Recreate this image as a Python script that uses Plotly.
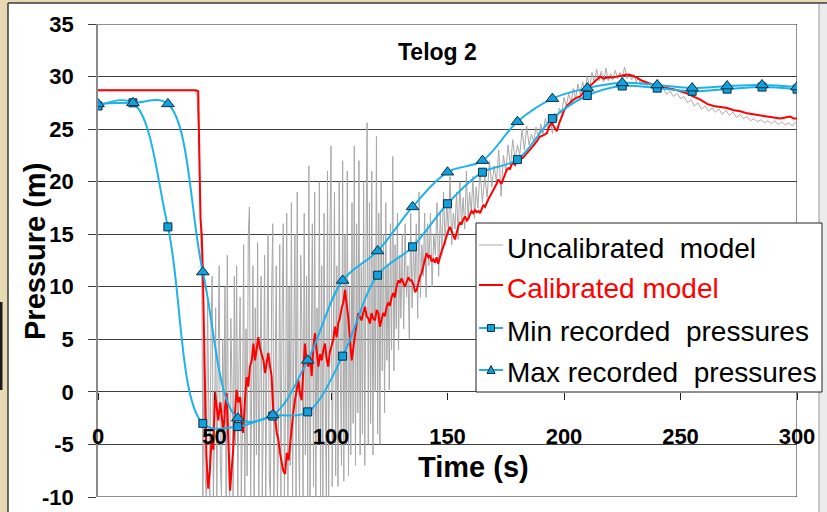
import plotly.graph_objects as go

# ---------------- data ----------------
rec_t = [0, 15, 30, 45, 60, 75, 90, 105, 120, 135, 150, 165, 180, 195, 210, 225, 240, 255, 270, 285, 300]
min_p = [27.2, 27.5, 15.7, -3.0, -3.3, -2.3, -1.9, 3.4, 11.1, 13.8, 17.9, 20.9, 22.1, 26.0, 28.2, 29.1, 28.9, 28.6, 28.8, 29.0, 28.8]
max_p = [27.4, 27.5, 27.4, 11.4, -2.5, -2.2, 3.0, 10.6, 13.4, 17.6, 20.9, 22.0, 25.7, 27.9, 28.9, 29.4, 29.2, 28.9, 29.1, 29.2, 29.0]

calib_t = [0, 42.0, 43.0, 43.5, 44.0, 44.5, 45.0, 45.8, 46.5, 47.3, 48.0, 48.8, 49.5, 50.2, 51.0, 51.6, 52.5, 53.2, 53.8,
           54.5, 55.2, 55.9, 56.7, 57.3, 58.0, 58.8, 59.5, 60.2, 61.0, 61.6, 62.3, 63.0, 63.8, 64.5, 65.2, 66.0, 66.7,
           67.4, 68.1, 68.8, 69.5, 70.2, 71.0, 71.7, 72.4, 73.1, 73.8, 74.5, 75.2, 76.0, 76.7, 77.4, 78.1, 78.8, 79.5,
           80.3, 81.0, 81.8, 82.5, 83.1, 83.8, 84.5, 85.3, 86.0, 86.7, 87.4, 88.1, 88.8, 89.5, 90.3, 91.0, 91.7, 92.4,
           93.1, 93.8, 94.6, 95.3, 96.0, 96.7, 97.4, 98.1, 98.8, 99.5, 100.3, 101.0, 101.7, 102.4, 103.1, 103.8, 104.6,
           105.3, 106.0, 106.7, 107.4, 108.1, 108.9, 109.6, 110.3, 111.0, 111.7, 112.4, 113.1, 113.8, 114.6, 115.3,
           116.0, 116.7, 117.4, 118.1, 118.9, 119.6, 120.3, 121.0, 121.7, 122.4, 123.1, 123.9, 124.6, 125.3, 126.0,
           126.7, 127.4, 128.1, 128.9, 129.6, 130.3, 131.0, 131.7, 132.5, 133.2, 134.0, 134.6, 135.4, 136.1, 136.8,
           137.5, 138.2, 138.9, 139.6, 140.3, 141.0, 141.8, 142.5, 143.2, 143.9, 144.6, 145.3, 146.0, 146.8, 147.5,
           148.2, 149.0, 149.6, 150.3, 151.0, 151.8, 152.5, 153.2, 154.0, 154.7, 155.4, 156.1, 156.8, 157.5, 158.3,
           159.0, 159.7, 160.4, 161.1, 161.8, 162.5, 163.3, 164.0, 164.7, 165.4, 166.1, 166.8, 167.5, 168.2, 169.0,
           169.7, 170.4, 171.1, 171.8, 172.5, 173.2, 174.0, 174.7, 175.4, 176.1, 176.8, 177.5, 178.2, 179.0, 179.7,
           180.4, 181.1, 182.5, 184.0, 185.4, 186.8, 188.2, 189.7, 191.1, 192.6, 193.6, 194.7, 195.8, 196.9, 198.0,
           199.0, 200.1, 201.2, 202.6, 204.0, 205.5, 206.9, 208.3, 209.7, 211.2, 212.6, 214.0, 215.5, 217.0, 218.5,
           220.6, 222.7, 224.9, 227.0, 229.2, 231.3, 233.5, 235.6, 238.5, 241.3, 244.2, 247.0, 249.9, 252.8, 255.6,
           258.5, 261.4, 264.2, 267.1, 270.0, 272.9, 275.7, 278.6, 281.4, 284.3, 287.1, 290.0, 292.8, 295.0, 297.1,
           298.6, 300.0]
calib_p = [28.7, 28.7, 28.6, 22.0, 16.5, 15.0, 11.5, 2.0, -6.0, -9.2, -7.5, -4.3, -5.5, 0.0, -1.5, -2.7, -1.0, -2.5, -3.9,
           -1.5, -0.1, -4.5, -9.4, -7.5, -5.6, -2.0, 0.2, -1.0, -0.5, -2.5, -3.9, -1.0, 1.4, 0.5, 2.4, 3.0, 4.6,
           3.0, 4.0, 5.2, 4.2, 3.7, 3.0, 1.8, 2.8, 3.7, 2.5, 1.5, -1.7, -2.5, -3.9, -4.5, -5.8, -6.5, -7.5,
           -7.8, -5.8, -6.5, -4.8, -3.9, -2.0, -0.8, 0.2, 1.1, -0.2, -0.8, 2.0, 4.6, 3.0, 2.4, 3.5, 1.5, 4.2,
           5.6, 4.0, 2.4, 3.6, 3.0, 4.0, 4.6, 3.2, 2.4, 3.8, 4.5, 5.0, 6.2, 5.2, 6.5, 7.0, 8.0,
           8.5, 9.7, 8.5, 7.1, 5.0, 3.0, 4.2, 5.6, 6.5, 7.5, 7.1, 6.8, 7.5, 8.1, 7.2,
           7.0, 6.5, 7.5, 7.0, 6.8, 7.8, 7.5, 6.2, 6.8, 7.5, 7.2, 8.1, 8.5, 8.2, 9.0,
           9.4, 9.0, 10.0, 10.6, 10.4, 10.8, 10.3, 10.0, 10.5, 10.9, 10.6, 10.6, 10.2, 9.5, 9.7,
           10.5, 11.0, 11.3, 12.0, 12.7, 13.2, 12.8, 13.0, 12.4, 12.6, 12.3, 12.8, 12.2, 13.0, 13.4,
           13.8, 14.4, 15.0, 15.3, 15.7, 15.2, 14.8, 14.5, 15.2, 15.8, 16.1, 16.0, 16.4, 16.7, 16.3,
           16.5, 16.9, 17.2, 17.0, 17.3, 17.1, 17.2, 17.0, 17.5, 17.8, 17.6, 18.0, 18.3, 18.6, 18.9,
           19.2, 19.5, 19.8, 20.2, 20.0, 19.8, 20.3, 20.8, 21.1, 21.3, 21.2, 21.6, 21.8, 21.6, 22.0,
           22.0, 22.1, 22.3, 22.7, 23.0, 23.4, 23.8, 24.3, 24.4, 24.6, 25.2, 25.6, 25.2, 24.8, 25.6,
           26.2, 26.8, 27.2, 27.5, 27.8, 28.0, 28.1, 28.5, 28.8, 29.1, 29.4, 29.7, 30.0, 29.8, 29.9,
           29.9, 30.0, 30.1, 30.2, 30.1, 29.9, 29.6, 29.4, 29.2, 29.0, 28.9, 28.8, 28.6, 28.4, 28.1,
           27.8, 27.4, 27.2, 27.1, 27.0, 26.8, 26.7, 26.5, 26.4, 26.3, 26.2, 26.1, 26.0, 26.1, 26.2,
           26.0, 26.0]

uncal_t = [0, 41.5, 42.5, 43.3, 44.0, 44.6,
           45.0, 45.5, 46.0, 46.5, 47.0, 47.5, 48.0, 48.5, 49.0, 49.5,
           50.0, 50.5, 51.0, 51.5, 52.0, 52.5, 53.0, 53.5, 54.0, 54.5,
           55.0, 55.5, 56.0, 56.5, 57.0, 57.5, 58.0, 58.5, 59.0, 59.5,
           60.0, 60.5, 61.0, 61.5, 62.0, 62.5, 63.0, 63.5, 64.0, 64.5,
           65.0, 65.5, 66.0, 66.5, 67.0, 67.5, 68.0, 68.5, 69.0, 69.5,
           70.0, 70.5, 71.0, 71.5, 72.0, 72.5, 73.0, 73.5, 74.0, 74.5,
           75.0, 75.5, 76.0, 76.5, 77.0, 77.5, 78.0, 78.5, 79.0, 79.5,
           80.0, 80.5, 81.0, 81.5, 82.0, 82.5, 83.0, 83.5, 84.0, 84.5,
           85.0, 85.5, 86.0, 86.5, 87.0, 87.5, 88.0, 88.5, 89.0, 89.5,
           90.0, 90.5, 91.0, 91.5, 92.0, 92.5, 93.0, 93.5, 94.0, 94.5,
           95.0, 95.5, 96.0, 96.5, 97.0, 97.5, 98.0, 98.5, 99.0, 99.5,
           100.0, 100.5, 101.0, 101.5, 102.0, 102.5, 103.0, 103.5, 104.0, 104.5,
           105.0, 105.5, 106.0, 106.5, 107.0, 107.5, 108.0, 108.5, 109.0, 109.5,
           110.0, 110.5, 111.0, 111.5, 112.0, 112.5, 113.0, 113.5, 114.0, 114.5,
           115.0, 115.5, 116.0, 116.5, 117.0, 117.5, 118.0, 118.5, 119.0, 119.5,
           120.0, 120.5, 121.0, 121.5, 122.0, 122.5, 123.0, 123.5, 124.0, 124.5,
           125.0, 125.5, 126.0, 126.5, 127.0, 127.5, 128.0, 128.5, 129.0, 129.5,
           130.0, 130.6, 131.2, 131.8, 132.4, 133.0, 133.6, 134.2, 134.8, 135.4,
           136.0, 136.6, 137.2, 137.8, 138.4, 139.0, 139.6, 140.2, 140.8, 141.4,
           142.0, 142.7, 143.4, 144.1, 144.8, 145.5, 146.2, 146.9, 147.6, 148.3,
           149.0, 149.7, 150.4, 151.1, 151.8, 152.5, 153.2, 153.9, 154.6, 155.3,
           156.0, 156.7, 157.4, 158.1, 158.8, 159.5, 160.2, 160.9, 161.6, 162.3,
           163.0, 164.0, 165.0, 166.0, 167.0, 168.0, 169.0, 170.0, 171.0, 172.0,
           173.0, 174.0, 175.0, 176.0, 177.0, 178.0, 179.0, 180.0, 181.0, 182.0,
           183.0, 184.0, 185.0, 186.0, 187.0, 188.0, 189.0, 190.0, 191.0, 192.0,
           193.0, 194.0, 195.0, 196.0, 197.0, 198.0, 199.0, 200.0, 201.0, 202.0,
           203.0, 204.0, 205.0, 206.0, 207.0, 208.0, 209.0, 210.0, 211.0, 212.0,
           213.0, 214.0, 215.0, 216.0, 217.0, 218.0, 219.0, 220.0, 221.0, 222.0,
           223.0, 224.0, 225.0, 226.0, 227.0, 228.0, 229.0, 230.0, 231.0, 232.0,
           233.0, 234.0, 235.0, 236.5, 238.0, 239.5, 241.0, 242.5, 244.0, 245.5,
           247.0, 248.5, 250.0, 251.5, 253.0, 254.5, 256.0, 257.5, 259.0, 260.5,
           262.0, 263.5, 265.0, 266.5, 268.0, 269.5, 271.0, 272.5, 274.0, 275.5,
           277.0, 278.5, 280.0, 281.5, 283.0, 284.5, 286.0, 287.5, 289.0, 290.5,
           292.0, 293.5, 295.0, 296.5, 298.0, 299.0, 300.0]
uncal_p = [28.7, 28.7, 28.3, 24.0, 16.0, 10.0,
           -10, 4, -8, -10, 9, -3, -10, 6, 11, -10,
           -4, 8, -10, 2, 12, -7, -10, 5, -2, 10,
           -10, 13, -6, -10, 7, 1, -10, 11, -5, 12,
           -10, 3, 9, -10, -3, 14, -10, 6, -8, 15,
           17.6, -10, 2, 12, -10, 8, -6, 14.2, -10, 5,
           11, -10, -2, 13, -10, 4, 15, -8, -10, 9,
           16, -10, 1, 12, -10, -4, 14, -10, 7, 16,
           -10, -1, 17, -10, 10, -7, 18, -10, 4, 15,
           -10, 19, -3, -10, 13, 6, -10, 17, -6, 11,
           -10, 21.5, -10, 3, 16, -9, 19, -10, 8, -4,
           20, -10, 12, -10, 17, 0, -10, 21, -10, 14,
           23.4, -9, 5, 19, -8, 12, -9, 20, 2, -7,
           22, -8.5, 15, -5, 21, -8, 10, -6, 18, -3,
           23.4, -7, 16, -2, 22, -6, 12, -4, 20, -7,
           14, 25.6, -5, 18, -3, 21, -6, 13, 0, 24.3,
           -4, 17, -5, 20, 2, 15, -2, 18, 3, 12,
           0.2, 16, 4, 22.4, 2, 14, 6, 17, 4, 13,
           7, 15, 6, 16, 9, 12, 5, 17, 8, 14,
           10, 16, 7, 19, 9, 14, 11, 17, 9, 16,
           12, 17, 10, 15, 13, 18, 11, 17, 13, 19,
           14, 18, 15, 20.5, 14, 17, 15.5, 19, 14.5, 20,
           16, 18.5, 15.5, 21, 16.5, 19, 17, 20.5, 16.5, 19.5,
           17.5, 21, 18, 20.5, 18.5, 22, 19.5, 21.5, 20, 23,
           18.6, 22.5, 21, 23.5, 21.5, 24, 22, 23.5, 22.5, 25,
           23, 25.3, 23.5, 24.5, 23.8, 25.2, 24.2, 25.5, 24.5, 26,
           25, 26.3, 24.6, 26.5, 25.8, 27, 26.5, 28, 27.2, 28.4,
           27.5, 28.9, 27.9, 29.3, 28.3, 29.5, 28.6, 30.0, 29.0, 30.4,
           29.4, 30.7, 29.6, 30.5, 29.5, 30.8, 29.6, 30.3, 29.7, 30.6,
           29.8, 30.4, 29.9, 30.9, 29.8, 30.3, 29.7, 30.2, 29.5, 29.9,
           29.2, 29.6, 29.0, 29.3, 28.8, 29.1, 28.5, 28.9, 28.3, 28.6,
           28.1, 28.4, 27.9, 28.1, 27.5, 27.8, 27.2, 27.5, 26.9, 27.2,
           26.7, 27.0, 26.6, 26.9, 26.4, 26.8, 26.3, 26.6, 26.1, 26.4,
           26.0, 26.2, 25.8, 26.0, 25.7, 25.9, 25.6, 25.8, 25.5, 25.8,
           25.4, 25.7, 25.4, 25.6, 25.3, 25.6, 25.5]

x_ticks = [0, 50, 100, 150, 200, 250, 300]
y_ticks = [-10, -5, 0, 5, 10, 15, 20, 25, 30, 35]
legend_names = ["Uncalibrated model", "Calibrated model", "Min recorded pressures", "Max recorded pressures"]

# ---------------- styling ----------------
FONT = "Liberation Sans, Arial, sans-serif"
BLUE_LINE = "#1fb2ea"
BLUE_FILL = "#12a0dc"
MARK_EDGE = "#0b2e46"
GRAY = "#a8a8a8"
RED = "#ff0000"

W, H = 827, 512
ML, MR, MT, MB = 98, 30, 24, 15
PW, PH = W - ML - MR, H - MT - MB


def px_x(p):
    return (p - ML) / PW


def px_y(p):
    return (H - MB - p) / PH


fig = go.Figure()
fig.add_trace(go.Scatter(x=uncal_t, y=uncal_p, mode="lines", name=legend_names[0],
                         line=dict(color=GRAY, width=1)))
fig.add_trace(go.Scatter(x=calib_t, y=calib_p, mode="lines", name=legend_names[1],
                         line=dict(color=RED, width=2)))
fig.add_trace(go.Scatter(x=rec_t, y=min_p, mode="lines+markers", name=legend_names[2],
                         line=dict(color=BLUE_LINE, width=2, shape="spline", smoothing=1.0),
                         marker=dict(symbol="square", size=8, color=BLUE_FILL,
                                     line=dict(color=MARK_EDGE, width=1))))
fig.add_trace(go.Scatter(x=rec_t, y=max_p, mode="lines+markers", name=legend_names[3],
                         line=dict(color=BLUE_LINE, width=2, shape="spline", smoothing=1.0),
                         marker=dict(symbol="triangle-up", size=11, color=BLUE_FILL,
                                     line=dict(color=MARK_EDGE, width=1))))

shapes = []
# page frame decoration
shapes.append(dict(type="rect", xref="paper", yref="paper", x0=px_x(0), x1=px_x(8), y0=px_y(512), y1=px_y(0),
                   fillcolor="#e8d8b4", line=dict(width=0), layer="below"))
shapes.append(dict(type="rect", xref="paper", yref="paper", x0=px_x(0), x1=px_x(827), y0=px_y(3), y1=px_y(0),
                   fillcolor="#e8d8b4", line=dict(width=0), layer="below"))
shapes.append(dict(type="line", xref="paper", yref="paper", x0=px_x(8), x1=px_x(8), y0=px_y(512), y1=px_y(3),
                   line=dict(color="#3a3a3a", width=1.5)))
shapes.append(dict(type="line", xref="paper", yref="paper", x0=px_x(8), x1=px_x(827), y0=px_y(3), y1=px_y(3),
                   line=dict(color="#3a3a3a", width=1.5)))
shapes.append(dict(type="rect", xref="paper", yref="paper", x0=px_x(0), x1=px_x(2.5), y0=px_y(390), y1=px_y(302),
                   fillcolor="#1a1a1a", line=dict(width=0)))
shapes.append(dict(type="rect", xref="paper", yref="paper", x0=px_x(819), x1=px_x(827), y0=px_y(512), y1=px_y(4),
                   fillcolor="#ececec", line=dict(width=0), layer="below"))
shapes.append(dict(type="line", xref="paper", yref="paper", x0=px_x(819), x1=px_x(819), y0=px_y(512), y1=px_y(4),
                   line=dict(color="#9a9a9a", width=1)))
# plot area border (top, right, bottom)
for (xa, ya, xb, yb) in [(0, 35, 300, 35), (300, 35, 300, -10), (0, -10, 300, -10)]:
    shapes.append(dict(type="line", xref="x", yref="y", x0=xa, y0=ya, x1=xb, y1=yb,
                       line=dict(color="#202020", width=1), layer="below"))

# legend box
shapes.append(dict(type="rect", xref="paper", yref="paper", x0=px_x(476), x1=px_x(822), y0=px_y(392), y1=px_y(223),
                   fillcolor="white", line=dict(color="#202020", width=1), layer="above"))
row_y = [245, 285, 328, 370]
row_styles = [(GRAY, 1), (RED, 2), (BLUE_LINE, 2), (BLUE_LINE, 2)]
for ry, (c, w) in zip(row_y, row_styles):
    shapes.append(dict(type="line", xref="paper", yref="paper", x0=px_x(479), x1=px_x(503), y0=px_y(ry), y1=px_y(ry),
                       line=dict(color=c, width=w), layer="above"))
# square marker for min
cx, cy = 491, row_y[2]
shapes.append(dict(type="rect", xref="paper", yref="paper", x0=px_x(cx - 3.5), x1=px_x(cx + 3.5),
                   y0=px_y(cy + 3.5), y1=px_y(cy - 3.5), fillcolor=BLUE_FILL,
                   line=dict(color=MARK_EDGE, width=1), layer="above"))
# triangle marker for max
cx, cy = 491, row_y[3]
tri = "M {:.5f},{:.5f} L {:.5f},{:.5f} L {:.5f},{:.5f} Z".format(
    px_x(cx - 4), px_y(cy + 3.5), px_x(cx + 4), px_y(cy + 3.5), px_x(cx), px_y(cy - 4.5))
shapes.append(dict(type="path", xref="paper", yref="paper", path=tri, fillcolor=BLUE_FILL,
                   line=dict(color=MARK_EDGE, width=1), layer="above"))

annotations = []
legend_labels = ["Uncalibrated\u00a0\u00a0model", "Calibrated model",
                 "Min recorded\u00a0\u00a0pressures", "Max recorded\u00a0\u00a0pressures"]
text_colors = ["#000000", RED, "#000000", "#000000"]
for ry, name, c in zip(row_y, legend_labels, text_colors):
    annotations.append(dict(xref="paper", yref="paper", x=px_x(505), y=px_y(ry + 3), xanchor="left",
                            yanchor="middle", text=name, showarrow=False,
                            font=dict(family=FONT, size=28, color=c)))
annotations.append(dict(xref="paper", yref="paper", x=px_x(437), y=px_y(52), text="Telog 2", showarrow=False,
                        xanchor="center", yanchor="middle",
                        font=dict(family=FONT, size=23, color="#000", weight="bold")))
annotations.append(dict(xref="paper", yref="paper", x=px_x(473), y=px_y(467), text="Time (s)", showarrow=False,
                        xanchor="center", yanchor="middle",
                        font=dict(family=FONT, size=29, color="#000", weight="bold")))
annotations.append(dict(xref="paper", yref="paper", x=px_x(35), y=px_y(252), text="Pressure (m)", showarrow=False,
                        textangle=-90, xanchor="center", yanchor="middle",
                        font=dict(family=FONT, size=29, color="#000", weight="bold")))

fig.update_layout(
    width=W, height=H,
    margin=dict(l=ML, r=MR, t=MT, b=MB, autoexpand=False),
    paper_bgcolor="white", plot_bgcolor="white",
    showlegend=False,
    shapes=shapes, annotations=annotations,
    xaxis=dict(range=[0, 300], tickvals=x_ticks, ticktext=[str(v) for v in x_ticks],
               showgrid=False, zeroline=False, showline=False, automargin=False,
               anchor="free", position=10 / 45,
               ticks="outside", ticklen=7, tickcolor="#202020", tickwidth=1,
               ticklabelstandoff=18,
               tickfont=dict(family=FONT, size=22, color="#000", weight="bold")),
    yaxis=dict(range=[-10, 35], tickvals=y_ticks, ticktext=[str(v) for v in y_ticks],
               showgrid=True, gridcolor="#404040", gridwidth=1, zeroline=False, automargin=False,
               showline=True, linecolor="#8a8a8a", linewidth=1.5,
               ticks="outside", ticklen=8, tickcolor="#404040", tickwidth=1,
               ticklabelstandoff=10,
               tickfont=dict(family=FONT, size=22, color="#000", weight="bold")),
)

fig.write_html("out.html")
